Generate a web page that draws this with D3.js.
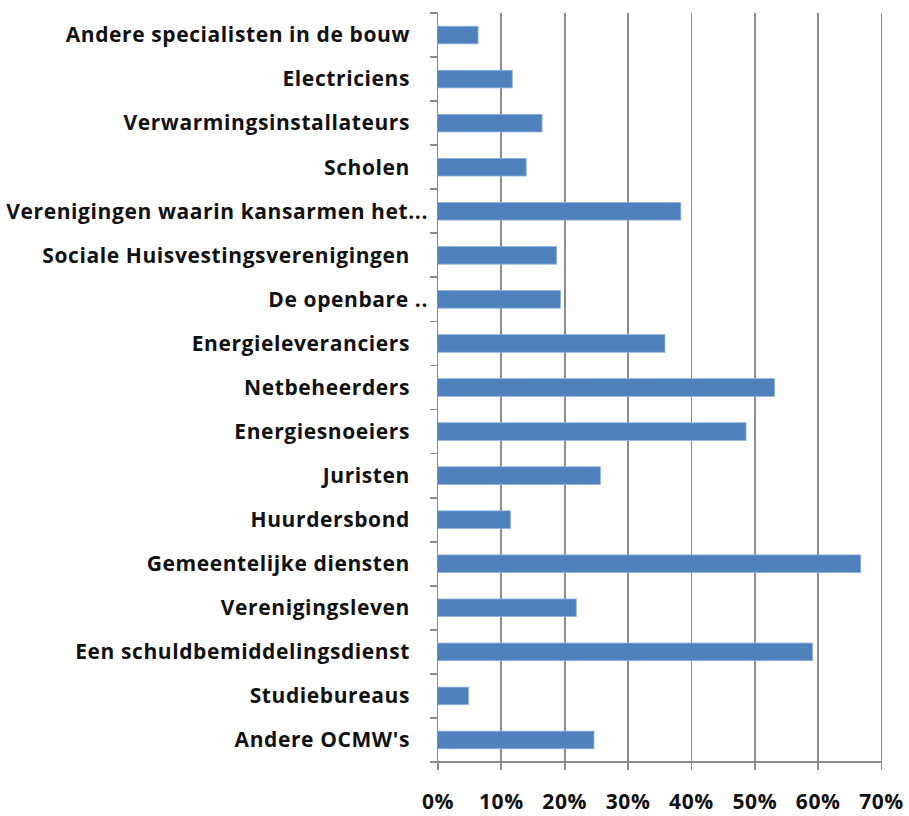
<!DOCTYPE html>
<meta charset="utf-8">
<style>
body { margin: 0; background: #fff; }
svg text {
  font-family: "Open Sans", "DejaVu Sans", sans-serif;
  font-weight: bold;
  font-size: 21px;
  letter-spacing: 0.6px;
  fill: #111;
}
.grid line, .axis line, .axis path {
  stroke: #8c8c8c;
  stroke-width: 1.8;
  shape-rendering: crispEdges;
}
.bar {
  fill: #4f81bd;
  stroke: #8fb0dc;
  stroke-width: 0.8;
}
</style>
<svg width="909" height="816"></svg>
<script src="https://cdn.jsdelivr.net/npm/d3@7"></script>
<script>

var categories = [
  "Andere specialisten in de bouw",
  "Electriciens",
  "Verwarmingsinstallateurs",
  "Scholen",
  "Verenigingen waarin kansarmen het...",
  "Sociale Huisvestingsverenigingen",
  "De openbare ..",
  "Energieleveranciers",
  "Netbeheerders",
  "Energiesnoeiers",
  "Juristen",
  "Huurdersbond",
  "Gemeentelijke diensten",
  "Verenigingsleven",
  "Een schuldbemiddelingsdienst",
  "Studiebureaus",
  "Andere OCMW's"
];

var values = [0.064, 0.118, 0.165, 0.140, 0.384, 0.188, 0.194, 0.359, 0.532,
              0.487, 0.257, 0.115, 0.668, 0.219, 0.592, 0.049, 0.247];

var tickValues = [0, 0.1, 0.2, 0.3, 0.4, 0.5, 0.6, 0.7];

var svg = d3.select("svg"),
    plotLeft = 437.5, plotRight = 881,
    plotTop = 13, plotBottom = 762;

var x = d3.scaleLinear()
    .domain([0, 0.7])
    .range([plotLeft, plotRight]);

var y = d3.scaleBand()
    .domain(categories)
    .range([plotTop, plotBottom])
    .paddingInner(0.6)
    .paddingOuter(0.3);

// vertical gridlines
svg.append("g")
    .attr("class", "grid")
    .attr("transform", "translate(0," + plotBottom + ")")
    .call(d3.axisBottom(x)
        .tickValues(tickValues.slice(1))
        .tickSize(-(plotBottom - plotTop))
        .tickFormat(""))
  .select(".domain").remove();

// bars
svg.append("g")
  .selectAll("rect")
  .data(categories)
  .enter().append("rect")
    .attr("class", "bar")
    .attr("x", x(0))
    .attr("y", function(d) { return y(d); })
    .attr("width", function(d, i) { return x(values[i]) - x(0); })
    .attr("height", y.bandwidth());

// bottom axis
var xAxis = svg.append("g")
    .attr("class", "axis")
    .attr("transform", "translate(0," + plotBottom + ")")
    .call(d3.axisBottom(x)
        .tickValues(tickValues)
        .tickSizeInner(8)
        .tickSizeOuter(0)
        .tickPadding(24)
        .tickFormat(d3.format(".0%")));
xAxis.select(".domain").attr("d", "M" + (plotLeft - 8) + ",0H" + plotRight);
xAxis.selectAll("text")
    .attr("fill", null)
    .attr("font-size", null)
    .attr("font-family", null);

// left axis: line plus ticks between categories
var yAxis = svg.append("g").attr("class", "axis");
yAxis.append("line")
    .attr("x1", plotLeft).attr("x2", plotLeft)
    .attr("y1", plotTop).attr("y2", plotBottom);
yAxis.selectAll(".tick")
  .data(d3.range(categories.length + 1))
  .enter().append("line")
    .attr("x1", plotLeft - 8).attr("x2", plotLeft)
    .attr("y1", function(i) { return plotTop + i * y.step(); })
    .attr("y2", function(i) { return plotTop + i * y.step(); });

svg.append("g")
  .selectAll("text")
  .data(categories)
  .enter().append("text")
    .attr("text-anchor", "end")
    .attr("x", function(d) { return /\.\.$/.test(d) ? 428 : 410; })
    .attr("y", function(d) { return y(d) + y.bandwidth() / 2; })
    .attr("dy", "0.35em")
    .text(function(d) { return d; });

</script>
